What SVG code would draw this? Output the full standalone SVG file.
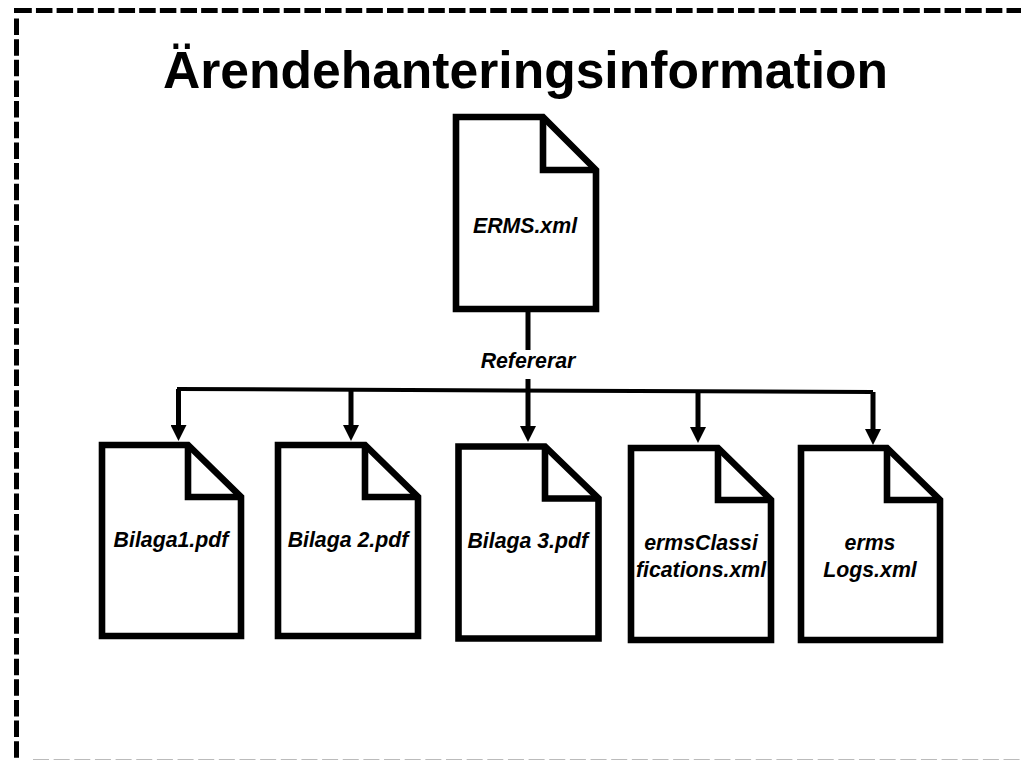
<svg xmlns="http://www.w3.org/2000/svg" width="1021" height="760" viewBox="0 0 1021 760">
<defs><marker id="ah" markerUnits="userSpaceOnUse" markerWidth="16" markerHeight="16" refX="6" refY="8" orient="auto"><path d="M0,0 L16,8 L0,16 Z" fill="#000"/></marker></defs>
<style>
.doc{fill:#fff;stroke:#000;stroke-width:6.6}
.fold{fill:none;stroke:#000;stroke-width:6.6}
text{font-family:"Liberation Sans",Arial,sans-serif;fill:#000}
.lbl{font-size:21.3px;font-weight:bold;font-style:italic;text-anchor:middle}
.c{fill:none;stroke:#000;stroke-width:5}
.h{fill:none;stroke:#000;stroke-width:4}
.bd{fill:none;stroke:#000;stroke-width:5;stroke-dasharray:16.500 4.150}
</style>
<rect width="1021" height="760" fill="#fff"/>
<g id="frame"><path class="bd" d="M16.500,18.500 V760"/><path class="bd" d="M15.300,10.500 H1021"/><path d="M14,8 H19 V13 H14 Z" fill="#000"/><path d="M33,760 H1021" fill="none" stroke="#bbb" stroke-width="2" stroke-dasharray="16 4.650"/></g>
<text id="title" x="525.500" y="88" font-size="51.600" font-weight="bold" text-anchor="middle">Ärendehanteringsinformation</text>
<g id="connectors">
<path class="c" d="M528,312 V350"/>
<path class="h" d="M177,389 L873,392"/>
<path class="c" d="M528,379 V432" marker-end="url(#ah)"/>
<path class="c" d="M178.500,389 V431" marker-end="url(#ah)"/>
<path class="c" d="M351,389 V431" marker-end="url(#ah)"/>
<path class="c" d="M698,391 V433" marker-end="url(#ah)"/>
<path class="c" d="M873,392 V435" marker-end="url(#ah)"/>
</g>
<text id="edge-label" class="lbl" x="528" y="367.700">Refererar</text>
<g id="erms"><path class="doc" d="M456,117 H543 L596,170 V309 H456 Z"/><path class="fold" d="M543,117 V170 H596"/><text class="lbl" x="525" y="232.700">ERMS.xml</text></g>
<g id="bilaga1"><path class="doc" d="M102,445 H188 L241,497 V636 H102 Z"/><path class="fold" d="M188,445 V497 H241"/><text class="lbl" x="171" y="546.700">Bilaga1.pdf</text></g>
<g id="bilaga2"><path class="doc" d="M278,445 H365 L418,497 V636 H278 Z"/><path class="fold" d="M365,445 V497 H418"/><text class="lbl" x="348" y="546.700">Bilaga 2.pdf</text></g>
<g id="bilaga3"><path class="doc" d="M458.500,446.500 H545 L598.500,498.500 V638.500 H458.500 Z"/><path class="fold" d="M545,446.500 V498.500 H598.500"/><text class="lbl" x="527.800" y="548.300">Bilaga 3.pdf</text></g>
<g id="classifications"><path class="doc" d="M631,448 H718 L771,500 V640 H631 Z"/><path class="fold" d="M718,448 V500 H771"/><text class="lbl" x="701" y="550">ermsClassi</text><text class="lbl" x="701" y="576.700">fications.xml</text></g>
<g id="logs"><path class="doc" d="M801,448 H887 L940,500 V640 H801 Z"/><path class="fold" d="M887,448 V500 H940"/><text class="lbl" x="870" y="550">erms</text><text class="lbl" x="870" y="576.700">Logs.xml</text></g>
</svg>
